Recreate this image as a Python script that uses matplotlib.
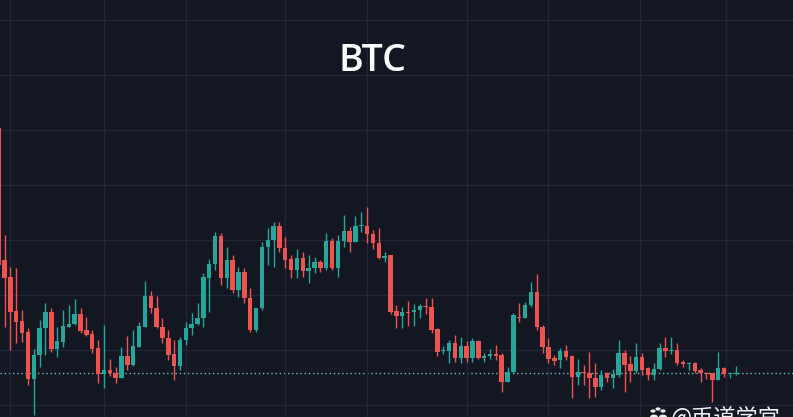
import matplotlib.pyplot as plt
from matplotlib.patches import Circle

# candle data (arbitrary price units, no axis shown)
opens = [289, 157, 140, 106, 96, 85, 38, 62, 89, 105, 68, 75, 90, 93, 103, 87, 83, 69, 43, 47,
         44, 39, 61, 52, 70, 90, 121, 109, 90, 79, 63, 51, 77, 89, 93, 99, 139, 153, 181, 139,
         157, 127, 145, 119, 87, 109, 170, 177, 191, 169, 158, 147, 159, 146, 149, 155, 149, 176, 149, 176,
         186, 175, 191, 191, 183, 174, 159, 162, 106, 101, 105, 105, 107, 111, 110, 88, 66, 66, 74, 59,
         71, 59, 76, 59, 61, 63, 62, 35, 45, 100, 99, 112, 125, 90, 70, 59, 57, 66, 61, 40,
         45, 44, 39, 30, 44, 39, 42, 64, 53, 46, 60, 49, 42, 48, 69, 66, 67, 55, 53, 54,
         47, 44, 44, 37, 49, 43, 43]
highs = [292, 182, 150, 149, 107, 89, 68, 97, 114, 109, 90, 107, 112, 118, 109, 100, 87, 77, 92, 58,
         50, 70, 81, 87, 95, 136, 126, 121, 99, 87, 77, 80, 95, 104, 114, 144, 158, 185, 184, 170,
         162, 150, 149, 129, 109, 175, 189, 195, 195, 180, 162, 168, 165, 162, 160, 157, 184, 179, 182, 202,
         190, 201, 205, 210, 187, 189, 165, 162, 112, 110, 116, 113, 113, 119, 119, 89, 71, 77, 82, 80,
         76, 79, 77, 64, 68, 72, 64, 50, 104, 114, 115, 135, 143, 92, 79, 62, 69, 72, 62, 58,
         52, 65, 54, 47, 45, 48, 77, 67, 61, 74, 64, 50, 54, 74, 80, 80, 74, 57, 55, 55,
         49, 45, 44, 65, 50, 44, 51]
lows = [147, 90, 67, 74, 75, 32, 2, 50, 62, 65, 60, 70, 90, 92, 84, 81, 64, 34, 29, 41,
        34, 39, 47, 51, 70, 90, 104, 89, 74, 57, 37, 47, 72, 82, 92, 90, 105, 147, 132, 129,
        124, 120, 114, 85, 85, 107, 152, 150, 165, 149, 139, 139, 140, 134, 144, 145, 147, 147, 140, 170,
        165, 175, 185, 174, 168, 158, 155, 103, 89, 89, 91, 91, 99, 103, 84, 61, 63, 54, 55, 54,
        55, 55, 58, 55, 58, 57, 25, 35, 44, 95, 99, 110, 87, 64, 54, 52, 49, 57, 19, 32,
        32, 19, 20, 27, 35, 29, 40, 25, 35, 44, 42, 37, 37, 47, 60, 63, 52, 50, 47, 44,
        35, 38, 15, 37, 40, 39, 42]
closes = [152, 139, 105, 95, 84, 38, 62, 89, 105, 68, 76, 91, 93, 103, 86, 82, 68, 43, 47, 44,
          39, 61, 52, 71, 91, 121, 109, 90, 79, 62, 51, 77, 89, 93, 99, 140, 153, 181, 139, 157,
          127, 145, 119, 87, 109, 170, 177, 191, 169, 157, 147, 159, 146, 149, 155, 149, 176, 149, 176, 186,
          175, 191, 192, 183, 174, 159, 161, 105, 101, 105, 104, 107, 111, 110, 87, 65, 67, 74, 59, 71,
          59, 76, 59, 61, 63, 61, 35, 45, 102, 99, 112, 125, 90, 70, 58, 56, 66, 60, 40, 45,
          44, 39, 30, 42, 39, 43, 64, 52, 46, 60, 47, 42, 48, 69, 66, 67, 54, 53, 54, 46,
          44, 43, 37, 49, 43, 44, 44]

# vertical grid positions (candle index) and horizontal grid levels
grid_x = [2, 18, 32, 49, 63, 80, 94, 109.6, 124.3]
grid_y = [12, 67, 122, 177, 232, 287, 342, 397]

up_color = '#26a69a'
down_color = '#ef5350'
bg_color = '#131722'
grid_color = '#21263a'

fig = plt.figure(figsize=(7.93, 4.17), dpi=100)
fig.patch.set_facecolor(bg_color)
ax = fig.add_axes([0, 0, 1, 1])
ax.set_facecolor(bg_color)

idx = list(range(len(opens)))
colors = [up_color if c >= o else down_color for o, c in zip(opens, closes)]
bottoms = [min(o, c) for o, c in zip(opens, closes)]
heights = [max(abs(c - o), 0.8) for o, c in zip(opens, closes)]

# wicks then bodies
ax.vlines(idx, lows, highs, colors=colors, linewidth=1, zorder=2)
ax.bar(idx, heights, bottom=bottoms, width=0.76, color=colors, linewidth=0, zorder=3)

# last price line
ax.axhline(closes[-1], color='#6fc0b6', linestyle=(0, (1, 2)), linewidth=1, zorder=1)

ax.set_xlim(0.23, 135.8)
ax.set_ylim(0, 417)
ax.set_xticks(grid_x)
ax.set_yticks(grid_y)
ax.tick_params(length=0, labelbottom=False, labelleft=False)
ax.grid(True, color=grid_color, linewidth=1, zorder=0)
for s in ax.spines.values():
    s.set_visible(False)

fig.text(372 / 793, 1 - 61 / 417, 'BTC', ha='center', va='center', fontsize=27,
         color='white', family='Open Sans', fontweight='semibold')

# watermark (cut off at the bottom edge, as in the source)
fig.text(671 / 793, 1 - 405 / 417, '@币道学宫', ha='left', va='top', fontsize=16,
         color='#f0f0f0', family=['Noto Sans CJK SC', 'DejaVu Sans'])
for cx, cy, r in [(653, 411, 1.8), (658, 409, 1.8), (663, 411, 1.8), (654, 417, 3.2), (663, 417, 3.2)]:
    fig.patches.append(Circle((cx / 793, 1 - cy / 417), r / 793, transform=fig.transFigure,
                              color='#f0f0f0', zorder=5))

fig.savefig('out.png', dpi=100, facecolor=bg_color)
